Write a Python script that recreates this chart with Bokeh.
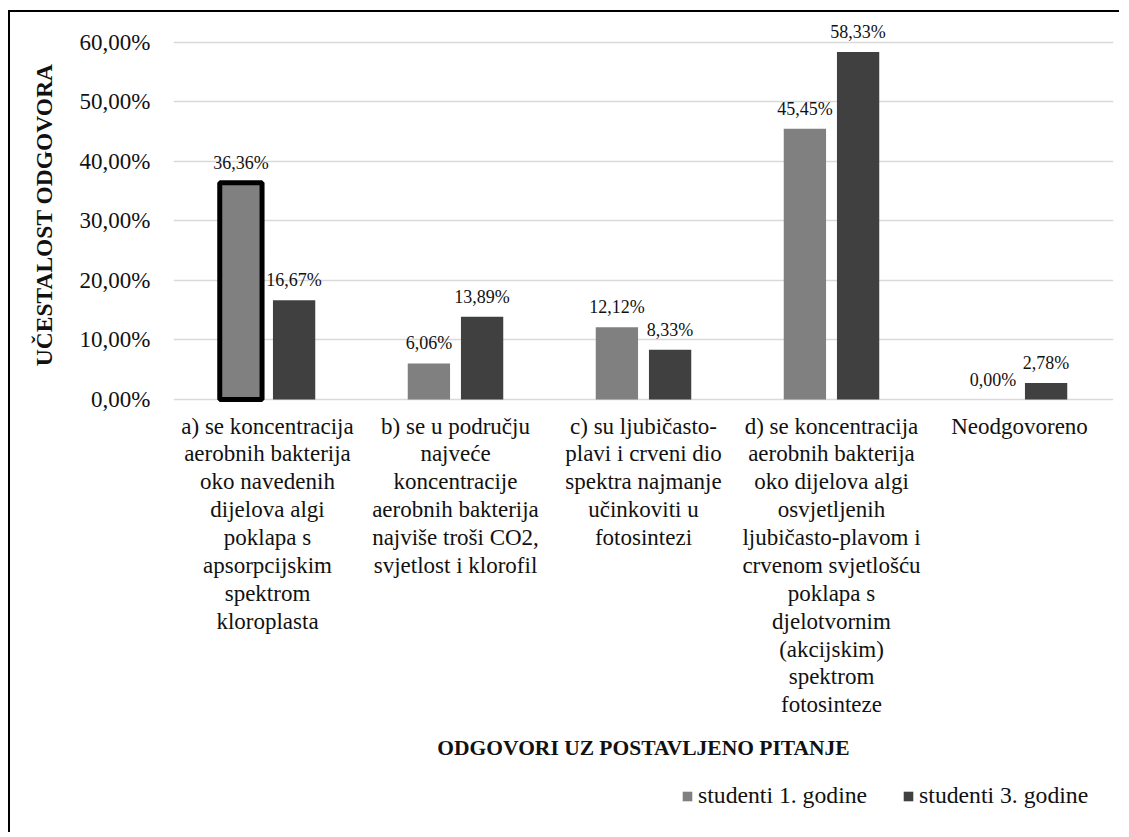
from bokeh.plotting import figure
from bokeh.models import (Range1d, FixedTicker, Legend, LegendItem, ColumnDataSource, Label, Title)
from bokeh.transform import dodge
from bokeh.core.properties import value
from bokeh.embed import file_html
from bokeh.resources import INLINE

# ---------------- data ----------------
categories = [
    "a) se koncentracija\naerobnih bakterija\noko navedenih\ndijelova algi\npoklapa s\napsorpcijskim\nspektrom\nkloroplasta",
    "b) se u području\nnajveće\nkoncentracije\naerobnih bakterija\nnajviše troši CO2,\nsvjetlost i klorofil",
    "c) su ljubičasto-\nplavi i crveni dio\nspektra najmanje\nučinkoviti u\nfotosintezi",
    "d) se koncentracija\naerobnih bakterija\noko dijelova algi\nosvjetljenih\nljubičasto-plavom i\ncrvenom svjetlošću\npoklapa s\ndjelotvornim\n(akcijskim)\nspektrom\nfotosinteze",
    "Neodgovoreno",
]
series_names = ["studenti 1. godine", "studenti 3. godine"]
values_1 = [36.36, 6.06, 12.12, 45.45, 0.00]
values_3 = [16.67, 13.89, 8.33, 58.33, 2.78]
y_ticks = [0, 10, 20, 30, 40, 50, 60]
y_tick_labels = ["0,00%", "10,00%", "20,00%", "30,00%", "40,00%", "50,00%", "60,00%"]
y_title = "UČESTALOST ODGOVORA"
x_title = "ODGOVORI UZ POSTAVLJENO PITANJE"

# ---------------- styles / layout ----------------
FONT = "Liberation Serif"
C1 = "#808080"
C3 = "#404040"
TXT = "#111111"
highlight_alpha = [1, 0, 0, 0, 0]  # thick outline only on first bar of series 1

W, H = 1111, 822
TOP = 6            # frame top (canvas px)
ZERO_PX = 387      # canvas y of the 0 % line
PX_PER_PCT = 5.958


def fmt(v):
    return f"{v:.2f}".replace(".", ",") + "%"


x_pos = [i + 0.5 for i in range(len(categories))]
src = ColumnDataSource(dict(
    x=x_pos,
    v1=values_1, v3=values_3,
    l1=[fmt(v) for v in values_1], l3=[fmt(v) for v in values_3],
    la=highlight_alpha,
))
cat_src = ColumnDataSource(dict(x=x_pos, y=[0] * len(categories), t=categories))

y_lo = -(H - ZERO_PX) / PX_PER_PCT
y_hi = (ZERO_PX - TOP) / PX_PER_PCT

p = figure(width=W, height=H, output_backend="svg", toolbar_location=None,
           x_range=Range1d(0, len(categories)), y_range=Range1d(y_lo, y_hi),
           x_axis_location=None,
           min_border_left=162, min_border_right=8, min_border_top=TOP, min_border_bottom=0)
p.margin = (10, 0, 0, 8)
p.styles = {"border-top": "2px solid black", "border-left": "2px solid black"}
p.outline_line_color = None
p.background_fill_color = "white"
p.border_fill_color = "white"

OFF = 0.1415
BW = 0.225

r1 = p.vbar(x=dodge("x", -OFF), top="v1", bottom=0, width=BW, source=src,
            fill_color=C1, line_color="black", line_alpha="la", line_width=5)
r3 = p.vbar(x=dodge("x", OFF), top="v3", bottom=0, width=BW, source=src,
            fill_color=C3, line_color=None)

text_kw = dict(text_align="center", text_baseline="middle", y_offset=-20,
               text_font=value(FONT), text_font_size="18px", text_color=TXT)
p.text(x=dodge("x", -OFF), y="v1", text="l1", source=src, **text_kw)
p.text(x=dodge("x", OFF), y="v3", text="l3", source=src, **text_kw)

# category labels below the 0 line
p.text(x="x", y="y", text="t", source=cat_src, text_align="center", text_baseline="top",
       y_offset=14, text_font=value(FONT), text_font_size="23px", text_line_height=1.115,
       text_color=TXT)

# grid
p.xgrid.grid_line_color = None
p.ygrid.grid_line_color = "#d9d9d9"
p.ygrid.grid_line_width = 1.5

# y axis
p.yaxis.ticker = FixedTicker(ticks=y_ticks)
p.yaxis.major_label_overrides = {t: l for t, l in zip(y_ticks, y_tick_labels)}
p.yaxis.axis_line_color = None
p.yaxis.major_tick_line_color = None
p.yaxis.minor_tick_line_color = None
p.yaxis.major_tick_out = 0
p.yaxis.major_tick_in = 0
p.yaxis.major_label_standoff = 23
p.yaxis.major_label_text_font = FONT
p.yaxis.major_label_text_font_size = "23px"
p.yaxis.major_label_text_color = TXT

# y title
p.add_layout(Title(text=y_title, align="right", offset=45, vertical_align="middle", standoff=38,
                   text_font=FONT, text_font_size="23.5px", text_font_style="bold",
                   text_color=TXT), "left")

# x title
p.add_layout(Label(x=len(categories) / 2, y=H - 735, x_units="data", y_units="screen",
                   text=x_title, text_align="center", text_baseline="middle",
                   text_font=FONT, text_font_size="21.5px", text_font_style="bold",
                   text_color=TXT))

legend = Legend(items=[LegendItem(label=series_names[0], renderers=[r1], index=1),
                       LegendItem(label=series_names[1], renderers=[r3], index=1)],
                orientation="horizontal", location=(508, 25), padding=0, margin=0,
                spacing=35, label_standoff=5, glyph_width=12, glyph_height=12,
                label_text_font=FONT, label_text_font_size="23.7px", label_text_color=TXT,
                border_line_alpha=0, background_fill_alpha=0)
p.add_layout(legend)

open("out.html", "w").write(file_html(p, INLINE))
